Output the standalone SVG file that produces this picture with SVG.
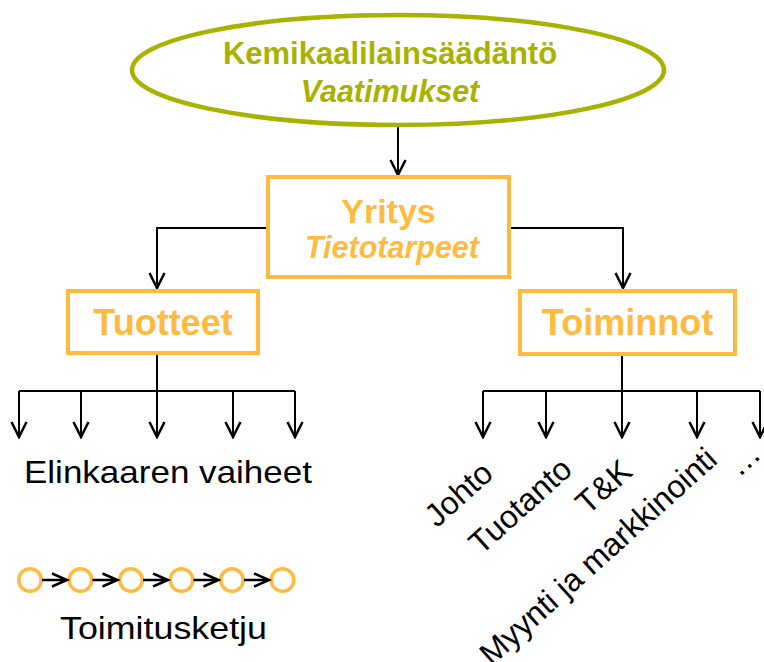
<svg xmlns="http://www.w3.org/2000/svg" width="764" height="662" viewBox="0 0 764 662">
<defs>
<style>
.olive{fill:#A8B200;font-family:"Liberation Sans",Arial,sans-serif;font-weight:bold;text-anchor:middle}
.orng{fill:#FFBB40;font-family:"Liberation Sans",Arial,sans-serif;font-weight:bold;text-anchor:middle}
.box{fill:#fff;stroke:#FFBB40;stroke-width:4}
.lbl{fill:#000;font-family:"Liberation Sans",Arial,sans-serif;font-size:32px}
.con{fill:none;stroke:#000;stroke-width:2}
.circ{fill:none;stroke:#FFBB40;stroke-width:3.5}
</style>
<marker id="v" markerUnits="userSpaceOnUse" viewBox="-16 -9 18 18" refX="0" refY="0" markerWidth="18" markerHeight="18" orient="auto">
<path d="M-15,-7.5 L0,0 L-15,7.5" fill="none" stroke="#000" stroke-width="2.5"/>
</marker>
</defs>
<g id="connectors">
<path class="con" d="M398,126 L398,175" marker-end="url(#v)"/>
<path class="con" d="M268,228 L157,228 L157,288" marker-end="url(#v)"/>
<path class="con" d="M509,228 L623,228 L623,288" marker-end="url(#v)"/>
<path class="con" d="M157,354 L157,391"/>
<path class="con" d="M19,391 L295,391"/>
<path class="con" d="M19,391 L19,437" marker-end="url(#v)"/>
<path class="con" d="M81,391 L81,437" marker-end="url(#v)"/>
<path class="con" d="M157,391 L157,437" marker-end="url(#v)"/>
<path class="con" d="M233,391 L233,437" marker-end="url(#v)"/>
<path class="con" d="M295,391 L295,437" marker-end="url(#v)"/>
<path class="con" d="M622,354 L622,391"/>
<path class="con" d="M483,391 L760,391"/>
<path class="con" d="M483,391 L483,437" marker-end="url(#v)"/>
<path class="con" d="M546,391 L546,437" marker-end="url(#v)"/>
<path class="con" d="M622,391 L622,437" marker-end="url(#v)"/>
<path class="con" d="M697,391 L697,437" marker-end="url(#v)"/>
<path class="con" d="M760,391 L760,437" marker-end="url(#v)"/>
</g>
<g id="kemikaali">
<ellipse cx="398" cy="70" rx="266" ry="55" fill="#fff" stroke="#A8B200" stroke-width="4.5"/>
<text class="olive" x="390" y="64" font-size="31">Kemikaalilainsäädäntö</text>
<text class="olive" x="390" y="102" font-size="30.5" font-style="italic">Vaatimukset</text>
</g>
<g id="yritys">
<rect class="box" x="268" y="177" width="241" height="100"/>
<text class="orng" x="388.5" y="223" font-size="34">Yritys</text>
<text class="orng" x="392" y="258" font-size="30.5" font-style="italic">Tietotarpeet</text>
</g>
<g id="tuotteet">
<rect class="box" x="68" y="291" width="190" height="62"/>
<text class="orng" x="163" y="335" font-size="36">Tuotteet</text>
</g>
<g id="toiminnot">
<rect class="box" x="520" y="291" width="215" height="63"/>
<text class="orng" x="627.5" y="335" font-size="36">Toiminnot</text>
</g>
<g id="elinkaaren">
<text class="lbl" x="24" y="483" font-size="32" textLength="288" lengthAdjust="spacingAndGlyphs">Elinkaaren vaiheet</text>
</g>
<g id="toimintolabels">
<text class="lbl" text-anchor="end" transform="translate(495,476) rotate(-42)">Johto</text>
<text class="lbl" text-anchor="end" transform="translate(574,472) rotate(-42)">Tuotanto</text>
<text class="lbl" text-anchor="end" transform="translate(634,474) rotate(-42)">T&amp;K</text>
<text class="lbl" text-anchor="end" transform="translate(719,462) rotate(-42)">Myynti ja markkinointi</text>
<text class="lbl" font-size="38" transform="translate(739,478) rotate(-42)">…</text>
</g>
<g id="toimitusketju">
<circle class="circ" cx="30" cy="580" r="11.3"/>
<circle class="circ" cx="80.5" cy="580" r="11.3"/>
<circle class="circ" cx="131" cy="580" r="11.3"/>
<circle class="circ" cx="181.5" cy="580" r="11.3"/>
<circle class="circ" cx="232" cy="580" r="11.3"/>
<circle class="circ" cx="282.5" cy="580" r="11.3"/>
<g stroke="#000" stroke-width="2.5" fill="none">
<path d="M42,580 L67,580 M52,573.5 L67,580 L52,586.5"/>
<path d="M92.5,580 L117.5,580 M102.5,573.5 L117.5,580 L102.5,586.5"/>
<path d="M143,580 L168,580 M153,573.5 L168,580 L153,586.5"/>
<path d="M193.5,580 L218.5,580 M203.5,573.5 L218.5,580 L203.5,586.5"/>
<path d="M244,580 L269,580 M254,573.5 L269,580 L254,586.5"/>
</g>
<text class="lbl" x="60" y="639" font-size="32" textLength="207" lengthAdjust="spacingAndGlyphs">Toimitusketju</text>
</g>
</svg>
